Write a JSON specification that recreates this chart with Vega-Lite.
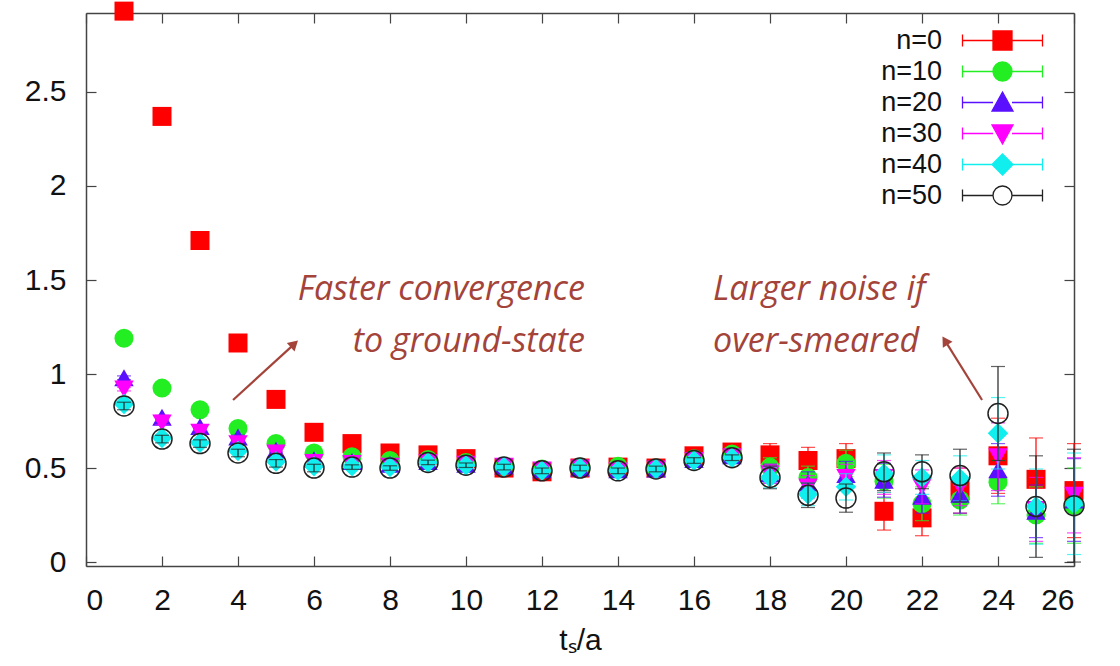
{
"$schema": "https://vega.github.io/schema/vega-lite/v6.json",
"width": 988, "height": 553,
"autosize": {"type": "none"},
"padding": {"left": 86, "top": 13, "right": 46, "bottom": 100},
"background": "white",
"config": {
  "view": {"stroke": null},
  "axis": {"grid": false, "domainColor": "#444", "domainWidth": 1.5, "tickColor": "#444", "tickWidth": 1.2,
           "labelFont": "Liberation Sans", "labelFontSize": 30, "labelColor": "#111",
           "titleFont": "Liberation Sans", "titleFontSize": 30, "titleFontWeight": "normal", "titleColor": "#111"}
},
"datasets": {
"pts": [
{"t":1,"n":"n=0","v":2.93,"e":0.012},{"t":2,"n":"n=0","v":2.37,"e":0.012},{"t":3,"n":"n=0","v":1.71,"e":0.012},{"t":4,"n":"n=0","v":1.165,"e":0.012},{"t":5,"n":"n=0","v":0.865,"e":0.012},{"t":6,"n":"n=0","v":0.69,"e":0.012},{"t":7,"n":"n=0","v":0.63,"e":0.012},{"t":8,"n":"n=0","v":0.58,"e":0.012},{"t":9,"n":"n=0","v":0.57,"e":0.012},{"t":10,"n":"n=0","v":0.55,"e":0.012},{"t":11,"n":"n=0","v":0.50,"e":0.015},{"t":12,"n":"n=0","v":0.48,"e":0.015},{"t":13,"n":"n=0","v":0.50,"e":0.015},{"t":14,"n":"n=0","v":0.505,"e":0.015},{"t":15,"n":"n=0","v":0.50,"e":0.015},{"t":16,"n":"n=0","v":0.565,"e":0.02},{"t":17,"n":"n=0","v":0.585,"e":0.02},{"t":18,"n":"n=0","v":0.57,"e":0.06},{"t":19,"n":"n=0","v":0.54,"e":0.07},{"t":20,"n":"n=0","v":0.55,"e":0.08},{"t":21,"n":"n=0","v":0.27,"e":0.1},{"t":22,"n":"n=0","v":0.235,"e":0.095},{"t":23,"n":"n=0","v":0.38,"e":0.12},{"t":24,"n":"n=0","v":0.565,"e":0.2},{"t":25,"n":"n=0","v":0.44,"e":0.22},{"t":26,"n":"n=0","v":0.38,"e":0.25},
{"t":1,"n":"n=10","v":1.19,"e":0.01},{"t":2,"n":"n=10","v":0.925,"e":0.01},{"t":3,"n":"n=10","v":0.81,"e":0.01},{"t":4,"n":"n=10","v":0.71,"e":0.01},{"t":5,"n":"n=10","v":0.63,"e":0.01},{"t":6,"n":"n=10","v":0.58,"e":0.01},{"t":7,"n":"n=10","v":0.56,"e":0.01},{"t":8,"n":"n=10","v":0.54,"e":0.01},{"t":9,"n":"n=10","v":0.545,"e":0.01},{"t":10,"n":"n=10","v":0.53,"e":0.01},{"t":11,"n":"n=10","v":0.51,"e":0.015},{"t":12,"n":"n=10","v":0.495,"e":0.015},{"t":13,"n":"n=10","v":0.505,"e":0.015},{"t":14,"n":"n=10","v":0.51,"e":0.015},{"t":15,"n":"n=10","v":0.50,"e":0.015},{"t":16,"n":"n=10","v":0.55,"e":0.015},{"t":17,"n":"n=10","v":0.575,"e":0.015},{"t":18,"n":"n=10","v":0.505,"e":0.05},{"t":19,"n":"n=10","v":0.45,"e":0.06},{"t":20,"n":"n=10","v":0.525,"e":0.07},{"t":21,"n":"n=10","v":0.43,"e":0.09},{"t":22,"n":"n=10","v":0.31,"e":0.09},{"t":23,"n":"n=10","v":0.33,"e":0.08},{"t":24,"n":"n=10","v":0.425,"e":0.115},{"t":25,"n":"n=10","v":0.25,"e":0.15},{"t":26,"n":"n=10","v":0.30,"e":0.2},
{"t":1,"n":"n=20","v":0.98,"e":0.01},{"t":2,"n":"n=20","v":0.77,"e":0.01},{"t":3,"n":"n=20","v":0.72,"e":0.01},{"t":4,"n":"n=20","v":0.665,"e":0.01},{"t":5,"n":"n=20","v":0.595,"e":0.01},{"t":6,"n":"n=20","v":0.545,"e":0.01},{"t":7,"n":"n=20","v":0.535,"e":0.01},{"t":8,"n":"n=20","v":0.52,"e":0.01},{"t":9,"n":"n=20","v":0.535,"e":0.01},{"t":10,"n":"n=20","v":0.52,"e":0.01},{"t":11,"n":"n=20","v":0.51,"e":0.015},{"t":12,"n":"n=20","v":0.49,"e":0.015},{"t":13,"n":"n=20","v":0.50,"e":0.015},{"t":14,"n":"n=20","v":0.49,"e":0.015},{"t":15,"n":"n=20","v":0.495,"e":0.015},{"t":16,"n":"n=20","v":0.545,"e":0.015},{"t":17,"n":"n=20","v":0.565,"e":0.015},{"t":18,"n":"n=20","v":0.47,"e":0.05},{"t":19,"n":"n=20","v":0.42,"e":0.06},{"t":20,"n":"n=20","v":0.465,"e":0.07},{"t":21,"n":"n=20","v":0.435,"e":0.09},{"t":22,"n":"n=20","v":0.35,"e":0.09},{"t":23,"n":"n=20","v":0.36,"e":0.1},{"t":24,"n":"n=20","v":0.49,"e":0.14},{"t":25,"n":"n=20","v":0.27,"e":0.14},{"t":26,"n":"n=20","v":0.33,"e":0.22},
{"t":1,"n":"n=30","v":0.92,"e":0.01},{"t":2,"n":"n=30","v":0.74,"e":0.01},{"t":3,"n":"n=30","v":0.69,"e":0.01},{"t":4,"n":"n=30","v":0.63,"e":0.01},{"t":5,"n":"n=30","v":0.58,"e":0.01},{"t":6,"n":"n=30","v":0.53,"e":0.01},{"t":7,"n":"n=30","v":0.525,"e":0.01},{"t":8,"n":"n=30","v":0.51,"e":0.01},{"t":9,"n":"n=30","v":0.53,"e":0.01},{"t":10,"n":"n=30","v":0.52,"e":0.01},{"t":11,"n":"n=30","v":0.51,"e":0.015},{"t":12,"n":"n=30","v":0.49,"e":0.015},{"t":13,"n":"n=30","v":0.50,"e":0.015},{"t":14,"n":"n=30","v":0.485,"e":0.015},{"t":15,"n":"n=30","v":0.495,"e":0.015},{"t":16,"n":"n=30","v":0.54,"e":0.015},{"t":17,"n":"n=30","v":0.56,"e":0.015},{"t":18,"n":"n=30","v":0.47,"e":0.05},{"t":19,"n":"n=30","v":0.40,"e":0.06},{"t":20,"n":"n=30","v":0.45,"e":0.07},{"t":21,"n":"n=30","v":0.45,"e":0.09},{"t":22,"n":"n=30","v":0.40,"e":0.09},{"t":23,"n":"n=30","v":0.40,"e":0.1},{"t":24,"n":"n=30","v":0.56,"e":0.18},{"t":25,"n":"n=30","v":0.28,"e":0.17},{"t":26,"n":"n=30","v":0.355,"e":0.2},
{"t":1,"n":"n=40","v":0.84,"e":0.01},{"t":2,"n":"n=40","v":0.66,"e":0.01},{"t":3,"n":"n=40","v":0.635,"e":0.01},{"t":4,"n":"n=40","v":0.59,"e":0.01},{"t":5,"n":"n=40","v":0.535,"e":0.01},{"t":6,"n":"n=40","v":0.51,"e":0.01},{"t":7,"n":"n=40","v":0.51,"e":0.01},{"t":8,"n":"n=40","v":0.505,"e":0.01},{"t":9,"n":"n=40","v":0.53,"e":0.01},{"t":10,"n":"n=40","v":0.515,"e":0.01},{"t":11,"n":"n=40","v":0.505,"e":0.015},{"t":12,"n":"n=40","v":0.485,"e":0.015},{"t":13,"n":"n=40","v":0.50,"e":0.015},{"t":14,"n":"n=40","v":0.485,"e":0.015},{"t":15,"n":"n=40","v":0.495,"e":0.015},{"t":16,"n":"n=40","v":0.54,"e":0.015},{"t":17,"n":"n=40","v":0.555,"e":0.015},{"t":18,"n":"n=40","v":0.45,"e":0.055},{"t":19,"n":"n=40","v":0.36,"e":0.06},{"t":20,"n":"n=40","v":0.40,"e":0.07},{"t":21,"n":"n=40","v":0.47,"e":0.1},{"t":22,"n":"n=40","v":0.45,"e":0.09},{"t":23,"n":"n=40","v":0.445,"e":0.12},{"t":24,"n":"n=40","v":0.685,"e":0.19},{"t":25,"n":"n=40","v":0.295,"e":0.2},{"t":26,"n":"n=40","v":0.31,"e":0.27},
{"t":1,"n":"n=50","v":0.83,"e":0.02},{"t":2,"n":"n=50","v":0.654,"e":0.02},{"t":3,"n":"n=50","v":0.63,"e":0.02},{"t":4,"n":"n=50","v":0.58,"e":0.02},{"t":5,"n":"n=50","v":0.525,"e":0.02},{"t":6,"n":"n=50","v":0.50,"e":0.02},{"t":7,"n":"n=50","v":0.505,"e":0.012},{"t":8,"n":"n=50","v":0.50,"e":0.012},{"t":9,"n":"n=50","v":0.53,"e":0.012},{"t":10,"n":"n=50","v":0.515,"e":0.012},{"t":11,"n":"n=50","v":0.505,"e":0.015},{"t":12,"n":"n=50","v":0.485,"e":0.015},{"t":13,"n":"n=50","v":0.50,"e":0.015},{"t":14,"n":"n=50","v":0.485,"e":0.015},{"t":15,"n":"n=50","v":0.495,"e":0.015},{"t":16,"n":"n=50","v":0.54,"e":0.015},{"t":17,"n":"n=50","v":0.555,"e":0.015},{"t":18,"n":"n=50","v":0.45,"e":0.06},{"t":19,"n":"n=50","v":0.355,"e":0.065},{"t":20,"n":"n=50","v":0.34,"e":0.075},{"t":21,"n":"n=50","v":0.48,"e":0.1},{"t":22,"n":"n=50","v":0.48,"e":0.09},{"t":23,"n":"n=50","v":0.46,"e":0.14},{"t":24,"n":"n=50","v":0.79,"e":0.25},{"t":25,"n":"n=50","v":0.295,"e":0.27},{"t":26,"n":"n=50","v":0.30,"e":0.3}
],
"notes": [
{"x":13.13,"y":1.447,"label":"Faster convergence","side":"right"},
{"x":13.13,"y":1.17,"label":"to ground-state","side":"right"},
{"x":16.5,"y":1.447,"label":"Larger noise if","side":"left"},
{"x":16.5,"y":1.17,"label":"over-smeared","side":"left"}
],
"arrows": [
{"id":1,"x1":3.87,"y1":0.862,"x2":5.45,"y2":1.154},
{"id":2,"x1":23.58,"y1":0.862,"x2":22.63,"y2":1.17}
]
},
"resolve": {"axis": {"x": "independent", "y": "independent"}},
"layer": [
{
 "data": {"name": "pts"},
 "transform": [{"filter": "datum.n == 'n=0'"}],
 "encoding": {
  "x": {"field": "t", "type": "quantitative", "scale": {"domain": [0, 26], "nice": false, "zero": false},
        "axis": {"orient": "bottom", "values": [0,2,4,6,8,10,12,14,16,18,20,22,24,26], "tickSize": -10, "labelPadding": 29, "title": "tₛ/a", "titlePadding": 10}},
  "y": {"field": "v", "type": "quantitative", "scale": {"domain": [-0.021, 2.92], "nice": false, "zero": false},
        "axis": {"orient": "left", "values": [0,0.5,1,1.5,2,2.5], "format": "~g", "tickSize": -10, "labelPadding": 30, "title": null}}
 },
 "layer": [
  {"mark": {"type": "errorbar", "ticks": {"size": 14}, "thickness": 1.2, "color": "#ff0000"}, "encoding": {"yError": {"field": "e"}}},
  {"mark": {"type": "point", "shape": "square", "filled": true, "opacity": 1, "size": 361, "color": "#ff0000"}}
 ]
},
{
 "data": {"name": "pts"},
 "transform": [{"filter": "datum.n == 'n=10'"}],
 "encoding": {
  "x": {"field": "t", "type": "quantitative", "scale": {"domain": [0, 26], "nice": false, "zero": false}, "axis": null},
  "y": {"field": "v", "type": "quantitative", "scale": {"domain": [-0.021, 2.92], "nice": false, "zero": false}, "axis": null}
 },
 "layer": [
  {"mark": {"type": "errorbar", "ticks": {"size": 14}, "thickness": 1.2, "color": "#22ee22"}, "encoding": {"yError": {"field": "e"}}},
  {"mark": {"type": "point", "shape": "circle", "filled": true, "opacity": 1, "size": 361, "color": "#22ee22"}}
 ]
},
{
 "data": {"name": "pts"},
 "transform": [{"filter": "datum.n == 'n=20'"}],
 "encoding": {
  "x": {"field": "t", "type": "quantitative", "scale": {"domain": [0, 26], "nice": false, "zero": false}, "axis": null},
  "y": {"field": "v", "type": "quantitative", "scale": {"domain": [-0.021, 2.92], "nice": false, "zero": false}, "axis": null}
 },
 "layer": [
  {"mark": {"type": "errorbar", "ticks": {"size": 14}, "thickness": 1.2, "color": "#5a10ff"}, "encoding": {"yError": {"field": "e"}}},
  {"mark": {"type": "point", "shape": "triangle-up", "filled": true, "opacity": 1, "size": 380, "color": "#5a10ff"}}
 ]
},
{
 "data": {"name": "pts"},
 "transform": [{"filter": "datum.n == 'n=30'"}],
 "encoding": {
  "x": {"field": "t", "type": "quantitative", "scale": {"domain": [0, 26], "nice": false, "zero": false}, "axis": null},
  "y": {"field": "v", "type": "quantitative", "scale": {"domain": [-0.021, 2.92], "nice": false, "zero": false}, "axis": null}
 },
 "layer": [
  {"mark": {"type": "errorbar", "ticks": {"size": 14}, "thickness": 1.2, "color": "#ff00ff"}, "encoding": {"yError": {"field": "e"}}},
  {"mark": {"type": "point", "shape": "triangle-down", "filled": true, "opacity": 1, "size": 380, "color": "#ff00ff"}}
 ]
},
{
 "data": {"name": "pts"},
 "transform": [{"filter": "datum.n == 'n=40'"}],
 "encoding": {
  "x": {"field": "t", "type": "quantitative", "scale": {"domain": [0, 26], "nice": false, "zero": false}, "axis": null},
  "y": {"field": "v", "type": "quantitative", "scale": {"domain": [-0.021, 2.92], "nice": false, "zero": false}, "axis": null}
 },
 "layer": [
  {"mark": {"type": "errorbar", "ticks": {"size": 14}, "thickness": 1.2, "color": "#10eeee"}, "encoding": {"yError": {"field": "e"}}},
  {"mark": {"type": "point", "shape": "diamond", "filled": true, "opacity": 1, "size": 420, "color": "#10eeee"}}
 ]
},
{
 "data": {"name": "pts"},
 "transform": [{"filter": "datum.n == 'n=50'"}],
 "encoding": {
  "x": {"field": "t", "type": "quantitative", "scale": {"domain": [0, 26], "nice": false, "zero": false}, "axis": null},
  "y": {"field": "v", "type": "quantitative", "scale": {"domain": [-0.021, 2.92], "nice": false, "zero": false}, "axis": null}
 },
 "layer": [
  {"mark": {"type": "errorbar", "ticks": {"size": 14}, "thickness": 1.2, "color": "#222222"}, "encoding": {"yError": {"field": "e"}}},
  {"mark": {"type": "point", "shape": "circle", "filled": false, "fill": "transparent", "opacity": 1, "size": 400, "strokeWidth": 1.5, "color": "#222222"}}
 ]
},
{
 "data": {"name": "pts"},
 "transform": [{"filter": "datum.t > 100"}],
 "mark": {"type": "point", "opacity": 1, "size": 400, "strokeWidth": 1.3},
 "encoding": {
  "x": {"field": "t", "type": "quantitative", "scale": {"domain": [0, 26], "nice": false, "zero": false}, "axis": null},
  "y": {"field": "v", "type": "quantitative", "scale": {"domain": [-0.021, 2.92], "nice": false, "zero": false}, "axis": null},
  "fill": {"field": "n", "type": "nominal",
           "scale": {"domain": ["n=0","n=10","n=20","n=30","n=40","n=50"], "range": ["#ff0000","#22ee22","#5a10ff","#ff00ff","#10eeee","transparent"]},
           "legend": {"title": null, "orient": "none", "legendX": 903, "legendY": 14, "padding": 0,
                      "labelAlign": "right", "labelOffset": -74, "labelFont": "Liberation Sans", "labelFontSize": 27, "labelColor": "#111",
                      "symbolSize": 400, "symbolStrokeWidth": 1.3, "rowPadding": 3}},
  "stroke": {"field": "n", "type": "nominal",
           "scale": {"domain": ["n=0","n=10","n=20","n=30","n=40","n=50"], "range": ["#ff0000","#22ee22","#5a10ff","#ff00ff","#10eeee","#222222"]},
           "legend": {"title": null, "orient": "none", "legendX": 903, "legendY": 14, "padding": 0,
                      "labelAlign": "right", "labelOffset": -74, "labelFont": "Liberation Sans", "labelFontSize": 27, "labelColor": "#111",
                      "symbolSize": 400, "symbolStrokeWidth": 1.3, "rowPadding": 3}},
  "shape": {"field": "n", "type": "nominal",
           "scale": {"domain": ["n=0","n=10","n=20","n=30","n=40","n=50"], "range": [
             "M-4,0H-0.95M0.95,0H4M-4,-0.6V0.6M4,-0.6V0.6M-0.95,-0.95H0.95V0.95H-0.95Z",
             "M-4,0H-0.95M0.95,0H4M-4,-0.6V0.6M4,-0.6V0.6M0.95,0A0.95,0.95,0,1,1,-0.95,0A0.95,0.95,0,1,1,0.95,0Z",
             "M-4,0H-0.95M0.95,0H4M-4,-0.6V0.6M4,-0.6V0.6M0,-1.05L1.05,0.85H-1.05Z",
             "M-4,0H-0.95M0.95,0H4M-4,-0.6V0.6M4,-0.6V0.6M0,1.05L1.05,-0.85H-1.05Z",
             "M-4,0H-0.95M0.95,0H4M-4,-0.6V0.6M4,-0.6V0.6M0,-1.05L1.05,0L0,1.05L-1.05,0Z",
             "M-4,0H-0.95M0.95,0H4M-4,-0.6V0.6M4,-0.6V0.6M0.95,0A0.95,0.95,0,1,1,-0.95,0A0.95,0.95,0,1,1,0.95,0Z"]},
           "legend": {"title": null, "orient": "none", "legendX": 903, "legendY": 14, "padding": 0,
                      "labelAlign": "right", "labelOffset": -74, "labelFont": "Liberation Sans", "labelFontSize": 27, "labelColor": "#111",
                      "symbolSize": 400, "symbolStrokeWidth": 1.3, "rowPadding": 3}}
 }
},
{
 "data": {"name": "notes"},
 "transform": [{"filter": "datum.side == 'right'"}],
 "mark": {"type": "text", "align": "right", "baseline": "middle", "font": "Open Sans", "fontStyle": "italic", "fontSize": 34, "color": "#a3433a"},
 "encoding": {
  "x": {"field": "x", "type": "quantitative", "scale": {"domain": [0, 26], "nice": false, "zero": false}, "axis": null},
  "y": {"field": "y", "type": "quantitative", "scale": {"domain": [-0.021, 2.92], "nice": false, "zero": false}, "axis": null},
  "text": {"field": "label"}
 }
},
{
 "data": {"name": "notes"},
 "transform": [{"filter": "datum.side == 'left'"}],
 "mark": {"type": "text", "align": "left", "baseline": "middle", "font": "Open Sans", "fontStyle": "italic", "fontSize": 34, "color": "#a3433a"},
 "encoding": {
  "x": {"field": "x", "type": "quantitative", "scale": {"domain": [0, 26], "nice": false, "zero": false}, "axis": null},
  "y": {"field": "y", "type": "quantitative", "scale": {"domain": [-0.021, 2.92], "nice": false, "zero": false}, "axis": null},
  "text": {"field": "label"}
 }
},
{
 "data": {"name": "arrows"},
 "mark": {"type": "rule", "color": "#a3433a", "strokeWidth": 2.2},
 "encoding": {
  "x": {"field": "x1", "type": "quantitative", "scale": {"domain": [0, 26], "nice": false, "zero": false},
        "axis": {"orient": "top", "values": [0,2,4,6,8,10,12,14,16,18,20,22,24,26], "tickSize": -10, "labels": false, "title": null}},
  "y": {"field": "y1", "type": "quantitative", "scale": {"domain": [-0.021, 2.92], "nice": false, "zero": false},
        "axis": {"orient": "right", "values": [0,0.5,1,1.5,2,2.5], "tickSize": -10, "labels": false, "title": null}},
  "x2": {"field": "x2"},
  "y2": {"field": "y2"}
 }
},
{
 "data": {"name": "arrows"},
 "transform": [{"filter": "datum.id == 1"}],
 "mark": {"type": "point", "shape": "triangle", "filled": true, "opacity": 1, "size": 130, "color": "#a3433a", "angle": 47.5},
 "encoding": {
  "x": {"field": "x2", "type": "quantitative", "scale": {"domain": [0, 26], "nice": false, "zero": false}, "axis": null},
  "y": {"field": "y2", "type": "quantitative", "scale": {"domain": [-0.021, 2.92], "nice": false, "zero": false}, "axis": null}
 }
},
{
 "data": {"name": "arrows"},
 "transform": [{"filter": "datum.id == 2"}],
 "mark": {"type": "point", "shape": "triangle", "filled": true, "opacity": 1, "size": 130, "color": "#a3433a", "angle": 328},
 "encoding": {
  "x": {"field": "x2", "type": "quantitative", "scale": {"domain": [0, 26], "nice": false, "zero": false}, "axis": null},
  "y": {"field": "y2", "type": "quantitative", "scale": {"domain": [-0.021, 2.92], "nice": false, "zero": false}, "axis": null}
 }
}
]
}
